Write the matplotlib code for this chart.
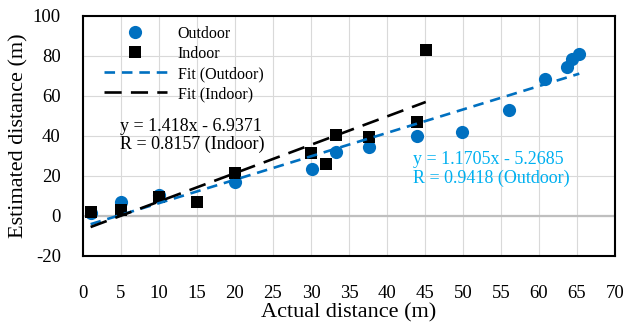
import matplotlib
matplotlib.use('Agg')
import matplotlib.pyplot as plt
import numpy as np

plt.rcParams['font.family'] = ['Liberation Serif', 'DejaVu Serif']
plt.rcParams['axes.unicode_minus'] = False

# data
outdoor_x = [1, 5, 10, 20, 30.1, 33.3, 37.6, 43.9, 49.9, 56, 60.8, 63.7, 64.3, 65.3]
outdoor_y = [1.5, 7, 10.5, 17, 23.5, 32, 34.5, 40, 42, 53, 68.5, 74.5, 78.5, 81]
indoor_x = [1, 5, 10, 15, 20, 30, 32, 33.3, 37.6, 44, 45.1]
indoor_y = [2, 3, 9.5, 7, 21.5, 31.5, 26, 40.5, 39.5, 47, 83]

# trendline coefficients as printed on the chart
outdoor_fit = (1.1705, -5.2685)
indoor_fit = (1.418, -6.9371)
outdoor_eq = ["y = 1.1705x - 5.2685", "R = 0.9418 (Outdoor)"]
indoor_eq = ["y = 1.418x - 6.9371", "R = 0.8157 (Indoor)"]

x_ticks = list(range(0, 71, 5))
y_ticks = list(range(-20, 101, 20))

blue = '#0070C0'
eq_blue = '#00B0F0'

fig = plt.figure(figsize=(6.29, 3.23), dpi=100)
ax = fig.add_axes([83 / 629, 67 / 323, 532 / 629, 240 / 323])

ax.plot(outdoor_x, outdoor_y, 'o', color=blue, ms=9.5, mew=0, label='Outdoor', zorder=3)
ax.plot(indoor_x, indoor_y, 's', color='black', ms=8.5, mew=0, label='Indoor', zorder=4)

# fit lines over the data range
xo = np.array([min(outdoor_x), max(outdoor_x)])
ax.plot(xo, outdoor_fit[0] * xo + outdoor_fit[1], color=blue, lw=1.9,
        dashes=(4, 2.6), label='Fit (Outdoor)', zorder=5)
xi = np.array([min(indoor_x), max(indoor_x)])
ax.plot(xi, indoor_fit[0] * xi + indoor_fit[1], color='black', lw=1.9,
        dashes=(6.5, 3.5), label='Fit (Indoor)', zorder=5)

ax.axhline(0, color='#BFBFBF', lw=1.6, zorder=1)

ax.set_xlim(0, 70)
ax.set_ylim(-20, 100)
ax.set_xticks(x_ticks)
ax.set_yticks(y_ticks)
ax.grid(True, color='#D9D9D9', lw=0.8, zorder=0)
ax.set_axisbelow(True)
ax.tick_params(axis='both', length=0, labelsize=13.5)
ax.tick_params(axis='x', pad=21)
ax.tick_params(axis='y', pad=16)
for s in ax.spines.values():
    s.set_color('black')
    s.set_linewidth(1.5)

ax.set_xlabel('Actual distance (m)', fontsize=16, labelpad=1)
ax.set_ylabel('Estimated distance (m)', fontsize=16, labelpad=3)

ax.text(4.9, 42.5, indoor_eq[0], fontsize=13, color='black', va='baseline')
ax.text(4.9, 33.5, indoor_eq[1], fontsize=13, color='black', va='baseline')
ax.text(43.4, 26, outdoor_eq[0], fontsize=13, color=eq_blue, va='baseline')
ax.text(43.4, 16.5, outdoor_eq[1], fontsize=13, color=eq_blue, va='baseline')

ax.legend(loc='upper left', bbox_to_anchor=(0.04, 0.96), frameon=False,
          fontsize=11.5, handlelength=3.9, handletextpad=0.7,
          labelspacing=0.26, borderpad=0, borderaxespad=0)

fig.savefig('out.png', dpi=100)
